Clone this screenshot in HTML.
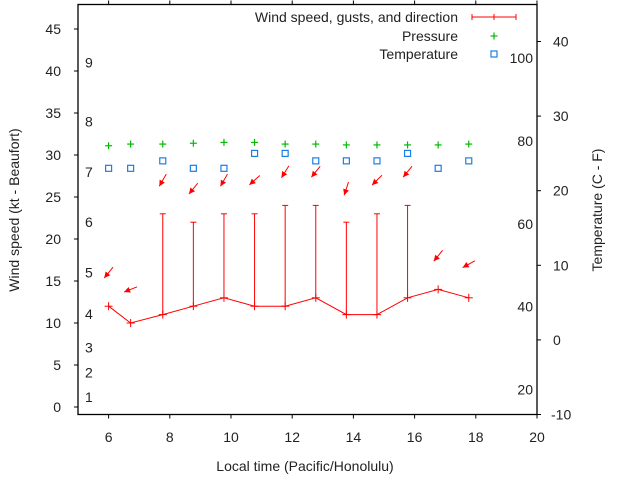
<!DOCTYPE html>
<html><head><meta charset="utf-8"><style>
html,body{margin:0;padding:0;background:#fff;}
svg{display:block;font-family:"Liberation Sans",sans-serif;}
</style></head><body>
<svg id="chart" width="640" height="480" viewBox="0 0 640 480">
<g id="axes"></g>
<g id="marks"></g>
</svg>
<script>
const times=[6.0,6.72,7.77,8.77,9.77,10.77,11.77,12.77,13.77,14.77,15.77,16.77,17.77];
const speeds=[12,10,11,12,13,12,12,13,11,11,13,14,13];
const gusts=[null,null,23,22,23,23,24,24,22,23,24,null,null];
const dirs=[39,68,30,39,30,48,32,39,18,45,39,39,61];
const pressure=[31.1,31.3,31.3,31.4,31.5,31.5,31.3,31.3,31.2,31.2,31.2,31.2,31.3];
const tempC=[23,23,24,23,23,25,25,24,24,24,25,23,24];
const xTicks=[6,8,10,12,14,16,18,20];
const yTicks=[0,5,10,15,20,25,30,35,40,45];
const cTicks=[-10,0,10,20,30,40];
const fTicks=[20,40,60,80,100];
const beaufort=[1,2,3,4,5,6,7,8,9];
const beaufortKt=[1.2,4.1,7.1,11.1,16,22,28,34,41];

const NS="http://www.w3.org/2000/svg";
const L=78,R=537,T=4.5,B=414.5;
const xs=v=>L+(v-5)*(R-L)/15;
const ys=v=>407-v*8.4;
const yc=v=>414.5-(v+10)*7.46;
const yf=f=>yc((f-32)*5/9);
function el(tag,attrs,parent,txt){const e=document.createElementNS(NS,tag);for(const k in attrs)e.setAttribute(k,attrs[k]);if(txt!==undefined)e.textContent=txt;parent.appendChild(e);return e;}
const ax=document.getElementById('axes'),mk=document.getElementById('marks');
let f=el('rect',{x:L,y:T,width:R-L,height:B-T,fill:'none',stroke:'#000','stroke-width':1.3},ax);

xTicks.forEach(v=>{const x=xs(v);
 el('line',{x1:x,x2:x,y1:B,y2:B+4,stroke:'#000'},ax);el('line',{x1:x,x2:x,y1:T,y2:T-4,stroke:'#000'},ax);
 const t=el('text',{x:x,y:442,'text-anchor':'middle','font-size':14,fill:'#222'},ax,String(v));
 });
yTicks.forEach(v=>{const y=ys(v);el('line',{x1:L,x2:L-4,y1:y,y2:y,stroke:'#000'},ax);
 const t=el('text',{x:61,y:y+5,'text-anchor':'end','font-size':14,fill:'#222'},ax,String(v));
 });
cTicks.forEach(v=>{const y=yc(v);el('line',{x1:R,x2:R+4,y1:y,y2:y,stroke:'#000'},ax);
 const t=el('text',{x:v<0?551:553,y:y+5,'font-size':14,fill:'#222'},ax,String(v));
 });
fTicks.forEach(v=>{const t=el('text',{x:533,y:yf(v)+5,'text-anchor':'end','font-size':14,fill:'#222'},ax,String(v));
 });
beaufort.forEach((b,i)=>{const t=el('text',{x:85,y:ys(beaufortKt[i])+5,'font-size':14,fill:'#222'},ax,String(b));
 });
let t=el('text',{x:305,y:471,'text-anchor':'middle','font-size':14,fill:'#222'},ax,'Local time (Pacific/Honolulu)');

t=el('text',{x:0,y:0,'text-anchor':'middle','font-size':14,fill:'#222',transform:'translate(19,210) rotate(-90)'},ax,'Wind speed (kt - Beaufort)');

t=el('text',{x:0,y:0,'text-anchor':'middle','font-size':14,fill:'#222',transform:'translate(602,210) rotate(-90)'},ax,'Temperature (C - F)');


const red='#f00',green='#0b0',blue='#1a7fe6';
// wind line
let pts=times.map((tt,i)=>xs(tt)+','+ys(speeds[i])).join(' ');
let pl=el('polyline',{points:pts,fill:'none',stroke:red,'stroke-width':1},mk);

times.forEach((tt,i)=>{const x=xs(tt),y=ys(speeds[i]);
 const g=el('g',{stroke:red,'stroke-width':1},mk);
 
 el('line',{x1:x-4,x2:x+4,y1:y,y2:y},g);el('line',{x1:x,x2:x,y1:y-4,y2:y+4},g);
 if(gusts[i]!==null){const gy=ys(gusts[i]);el('line',{x1:x,x2:x,y1:y,y2:gy},g);el('line',{x1:x-3,x2:x+3,y1:gy,y2:gy},g);}
 // direction arrow
 const top=Math.max(speeds[i],gusts[i]||0)+4;const cy=ys(top);
 const a=dirs[i]*Math.PI/180,dx=-Math.sin(a),dy=Math.cos(a),len=14;
 const hx=x+dx*len/2,hy=cy+dy*len/2,tx=x-dx*len/2,ty=cy-dy*len/2;
 const ar=el('g',{},mk);
 el('line',{x1:tx,y1:ty,x2:hx,y2:hy,stroke:red,'stroke-width':1},ar);
 const px=-dy,py=dx,hl=6,hw=3;
 el('polygon',{points:`${hx},${hy} ${hx-dx*hl+px*hw},${hy-dy*hl+py*hw} ${hx-dx*hl-px*hw},${hy-dy*hl-py*hw}`,fill:red},ar);
});
pressure.forEach((p,i)=>{const x=xs(times[i]),y=ys(p);
 const g=el('g',{stroke:green,'stroke-width':1.2},mk);
 el('line',{x1:x-3.5,x2:x+3.5,y1:y,y2:y},g);el('line',{x1:x,x2:x,y1:y-3.5,y2:y+3.5},g);});
tempC.forEach((c,i)=>{const x=xs(times[i]),y=yc(c);
 const r=el('rect',{x:x-3,y:y-3,width:6,height:6,fill:'none',stroke:blue,'stroke-width':1.2},mk);
 });
// legend
const lg=el('g',{},mk);
[['Wind speed, gusts, and direction',17],['Pressure',36],['Temperature',54]].forEach(([s,y])=>{
 const e=el('text',{x:458,y:y+5,'text-anchor':'end','font-size':14,fill:'#222'},lg,s);
 });
el('line',{x1:472,x2:516,y1:17,y2:17,stroke:red},lg);
[472,494,516].forEach(x=>el('line',{x1:x,x2:x,y1:14,y2:20,stroke:red},lg));
el('line',{x1:490.5,x2:497.5,y1:36,y2:36,stroke:green,'stroke-width':1.2},lg);
el('line',{x1:494,x2:494,y1:32.5,y2:39.5,stroke:green,'stroke-width':1.2},lg);
el('rect',{x:491,y:51,width:6,height:6,fill:'none',stroke:blue,'stroke-width':1.2},lg);
</script>
</body></html>
